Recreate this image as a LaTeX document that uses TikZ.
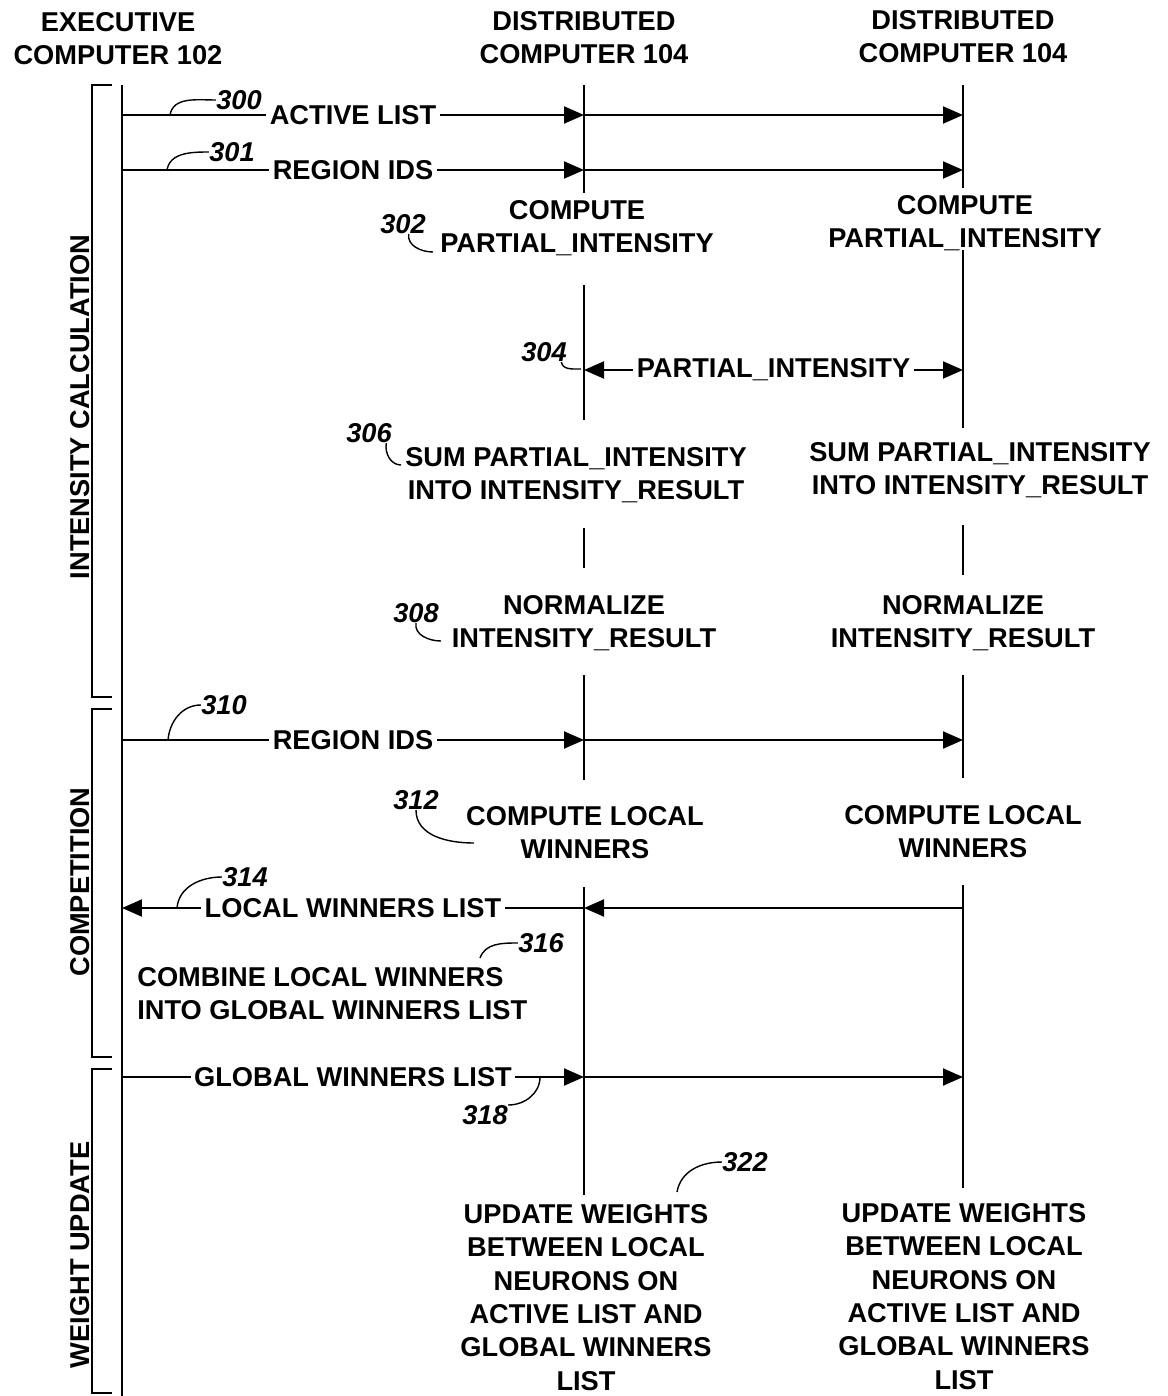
\documentclass[tikz,border=0pt]{standalone}
\usepackage{fontspec}
\setmainfont{Liberation Sans}
\usetikzlibrary{arrows.meta}
\begin{document}
\begin{tikzpicture}[
    x=0.02cm, y=0.02cm,
    every node/.style={font=\fontsize{15.5}{19}\selectfont\bfseries},
    txt/.style={align=center, inner sep=0pt, anchor=north},
    lbl/.style={fill=white, inner sep=2pt},
    refnum/.style={font=\fontsize{15.5}{19}\selectfont\bfseries\itshape, inner sep=0pt},
    life/.style={line width=1.2pt},
    msg/.style={line width=1.2pt, -{Triangle[length=0.4cm,width=0.34cm]}},
    twoway/.style={line width=1.2pt, {Triangle[length=0.4cm,width=0.34cm]}-{Triangle[length=0.4cm,width=0.34cm]}},
    lead/.style={line width=0.8pt},
    phase/.style={line width=0.6pt},
    phaselbl/.style={rotate=90, anchor=south, inner sep=1pt}
]
\useasboundingbox (0,0) rectangle (1168,-1396);

% Kopf
\node[txt] (exec) at (118,-12) {EXECUTIVE\\COMPUTER 102};
\node[txt] (dca) at (584,-11) {DISTRIBUTED\\COMPUTER 104};
\node[txt] (dcb) at (963,-10) {DISTRIBUTED\\COMPUTER 104};

% Phasen
\draw[phase] (112,-85) -- (92,-85) -- (92,-697) -- (112,-697);
\draw[phase] (112,-709) -- (92,-709) -- (92,-1057) -- (112,-1057);
\draw[phase] (112,-1069) -- (92,-1069) -- (92,-1393) -- (112,-1393);
\node[phaselbl] (ph1) at (92,-407) {INTENSITY CALCULATION};
\node[phaselbl] (ph2) at (92,-882) {COMPETITION};
\node[phaselbl] (ph3) at (92,-1255) {WEIGHT UPDATE};

% Lebenslinien
\draw[life] (122,-85) -- (122,-1396);
\draw[life] (584,-85) -- (584,-193);
\draw[life] (584,-285) -- (584,-420);
\draw[life] (584,-528) -- (584,-568);
\draw[life] (584,-675) -- (584,-780);
\draw[life] (584,-887) -- (584,-1195);
\draw[life] (963,-85) -- (963,-188);
\draw[life] (963,-250) -- (963,-428);
\draw[life] (963,-525) -- (963,-575);
\draw[life] (963,-675) -- (963,-778);
\draw[life] (963,-885) -- (963,-1188);

% Schritte
\node[txt] (cpa) at (577,-200) {COMPUTE\\PARTIAL\_INTENSITY};
\node[txt] (cpb) at (965,-195) {COMPUTE\\PARTIAL\_INTENSITY};
\node[txt] (suma) at (576,-447) {SUM PARTIAL\_INTENSITY\\INTO INTENSITY\_RESULT};
\node[txt] (sumb) at (980,-442) {SUM PARTIAL\_INTENSITY\\INTO INTENSITY\_RESULT};
\node[txt] (nrma) at (584,-595) {NORMALIZE\\INTENSITY\_RESULT};
\node[txt] (nrmb) at (963,-595) {NORMALIZE\\INTENSITY\_RESULT};
\node[txt] (lwa) at (585,-806) {COMPUTE LOCAL\\WINNERS};
\node[txt] (lwb) at (963,-805) {COMPUTE LOCAL\\WINNERS};
\node[txt, align=left, anchor=north west] (comb) at (137,-967) {COMBINE LOCAL WINNERS\\INTO GLOBAL WINNERS LIST};
\node[txt] (upa) at (586,-1204) {UPDATE WEIGHTS\\BETWEEN LOCAL\\NEURONS ON\\ACTIVE LIST AND\\GLOBAL WINNERS\\LIST};
\node[txt] (upb) at (964,-1203) {UPDATE WEIGHTS\\BETWEEN LOCAL\\NEURONS ON\\ACTIVE LIST AND\\GLOBAL WINNERS\\LIST};

% Nachrichten
\coordinate (e300) at (122,-115);
\coordinate (a300) at (584,-115);
\coordinate (b300) at (963,-115);
\coordinate (e301) at (122,-170);
\coordinate (a301) at (584,-170);
\coordinate (b301) at (963,-170);
\coordinate (a304) at (584,-370);
\coordinate (b304) at (963,-370);
\coordinate (e310) at (122,-740);
\coordinate (a310) at (584,-740);
\coordinate (b310) at (963,-740);
\coordinate (e314) at (122,-908);
\coordinate (a314) at (584,-908);
\coordinate (b314) at (963,-908);
\coordinate (e318) at (122,-1077);
\coordinate (a318) at (584,-1077);
\coordinate (b318) at (963,-1077);

\draw[msg] (e300) -- node[lbl] {ACTIVE LIST} (a300);
\draw[msg] (a300) -- (b300);
\draw[msg] (e301) -- node[lbl] {REGION IDS} (a301);
\draw[msg] (a301) -- (b301);
\draw[twoway] (a304) -- node[lbl] {PARTIAL\_INTENSITY} (b304);
\draw[msg] (e310) -- node[lbl] {REGION IDS} (a310);
\draw[msg] (a310) -- (b310);
\draw[msg] (b314) -- (a314);
\draw[msg] (a314) -- node[lbl] {LOCAL WINNERS LIST} (e314);
\draw[msg] (e318) -- node[lbl] {GLOBAL WINNERS LIST} (a318);
\draw[msg] (a318) -- (b318);

% Bezugszeichen
\node[refnum] (n300) at (239,-100) {300};
\node[refnum] (n301) at (232,-152) {301};
\node[refnum] (n302) at (403,-224) {302};
\node[refnum] (n304) at (544,-352) {304};
\node[refnum] (n306) at (369,-433) {306};
\node[refnum] (n308) at (416,-613) {308};
\node[refnum] (n310) at (224,-705) {310};
\node[refnum] (n312) at (416,-800) {312};
\node[refnum] (n314) at (245,-877) {314};
\node[refnum] (n316) at (541,-943) {316};
\node[refnum] (n318) at (485,-1115) {318};
\node[refnum] (n322) at (745,-1162) {322};

\coordinate (c300) at (170,-115);
\coordinate (c301) at (167,-170);
\coordinate (c302) at (433,-252);
\coordinate (c304) at (581,-369);
\coordinate (c306) at (401,-465);
\coordinate (c308) at (441,-641);
\coordinate (c310) at (168,-740);
\coordinate (c312) at (474,-843);
\coordinate (c314) at (177,-908);
\coordinate (c316) at (480,-958);
\coordinate (c318) at (540,-1077);
\coordinate (c322) at (677,-1192);

\draw[lead] (c300) to[out=80,in=180] (n300.west);
\draw[lead] (c301) to[out=80,in=180] (n301.west);
\draw[lead] (n302.-60) to[out=-100,in=180] (c302);
\draw[lead] (n304.-30) to[out=-80,in=180] (c304);
\draw[lead] (n306.-30) to[out=-100,in=180] (c306);
\draw[lead] (n308.south) to[out=-100,in=180] (c308);
\draw[lead] (c310) to[out=85,in=180] (n310.west);
\draw[lead] (n312.south) to[out=-90,in=180] (c312);
\draw[lead] (c314) to[out=85,in=180] (n314.west);
\draw[lead] (c316) to[out=70,in=180] (n316.west);
\draw[lead] (c318) to[out=-90,in=0] (n318.north east);
\draw[lead] (c322) to[out=80,in=180] (n322.west);
\end{tikzpicture}
\end{document}
